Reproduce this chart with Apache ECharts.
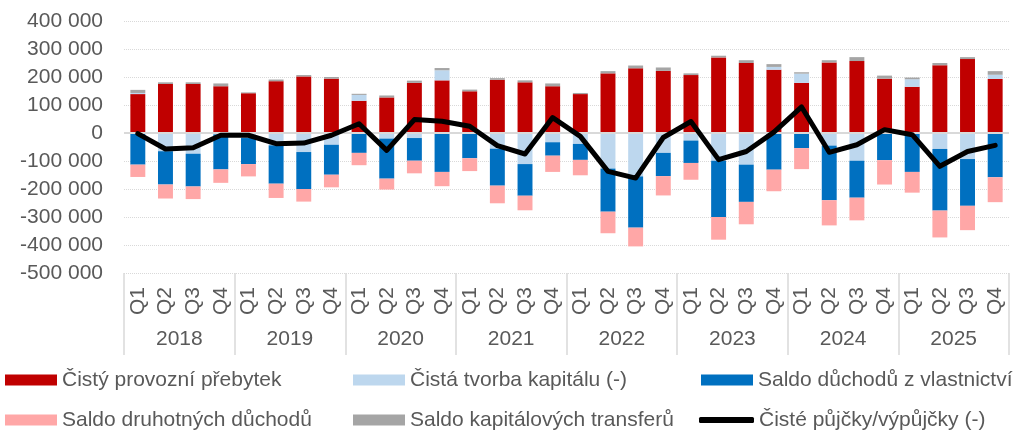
<!DOCTYPE html>
<html>
<head>
<meta charset="utf-8">
<script src="https://cdn.jsdelivr.net/npm/echarts@6/dist/echarts.min.js"></script>
<style>
html,body{margin:0;padding:0;background:#fff;}
#chart{width:1020px;height:432px;}
</style>
</head>
<body>
<div id="chart"></div>
<script>
var quarters = ['Q1','Q2','Q3','Q4','Q1','Q2','Q3','Q4','Q1','Q2','Q3','Q4','Q1','Q2','Q3','Q4',
                'Q1','Q2','Q3','Q4','Q1','Q2','Q3','Q4','Q1','Q2','Q3','Q4','Q1','Q2','Q3','Q4'];
var years = ['2018','2019','2020','2021','2022','2023','2024','2025'];

var surplus = [139000,175000,175000,167000, 142000,185000,202000,194000, 115000,127000,179000,188000, 149000,190000,181000,167000,
               139000,213000,231000,222000, 207000,270000,250000,226000, 179000,252000,257000,194000, 165000,242000,264000,193000];
var capitalFormation = [4000,-65000,-74000,-5000, -18000,-44000,-68000,-42000, 21000,-20000,-18000,36000, -3000,-56000,-111000,-33000,
               -39000,-127000,-155000,-71000, -27000,-99000,-113000,10000, 33000,-45000,-99000,-2000, 27000,-57000,-93000,15000];
var propertyIncome = [-113000,-119000,-117000,-125000, -93000,-137000,-132000,-107000, -71000,-143000,-81000,-139000, -87000,-132000,-113000,-48000,
               -57000,-154000,-183000,-83000, -80000,-201000,-133000,-131000, -54000,-195000,-132000,-95000, -139000,-220000,-167000,-158000];
var secondaryIncome = [-44000,-50000,-45000,-48000, -44000,-51000,-45000,-45000, -44000,-39000,-45000,-51000, -46000,-63000,-52000,-58000,
               -55000,-77000,-67000,-69000, -60000,-81000,-80000,-77000, -75000,-90000,-81000,-87000, -74000,-96000,-87000,-89000];
var capitalTransfers = [11000,6000,6000,10000, 3000,6000,5000,6000, 4000,7000,8000,8000, 6000,6000,7000,10000,
               4000,8000,10000,12000, 6000,6000,10000,10000, 5000,8000,14000,11000, 6000,8000,7000,13000];
var netLending = [-2000,-57000,-53000,-8000, -8000,-38000,-36000,-8000, 33000,-62000,48000,42000, 24000,-45000,-75000,55000,
               -12000,-137000,-161000,-16000, 41000,-95000,-66000,3000, 93000,-69000,-42000,12000, -6000,-119000,-66000,-44000];

var yTicks = [-500000,-400000,-300000,-200000,-100000,0,100000,200000,300000,400000];
var yTickLabels = ['-500 000','-400 000','-300 000','-200 000','-100 000','0','100 000','200 000','300 000','400 000'];

var names = ['Čistý provozní přebytek','Čistá tvorba kapitálu (-)','Saldo důchodů z vlastnictví',
             'Saldo druhotných důchodů','Saldo kapitálových transferů','Čisté půjčky/výpůjčky (-)'];
var colors = ['#C00000','#BDD7EE','#0070C0','#FFA7A7','#A5A5A5','#000000'];

var FONT = '"Liberation Sans", Arial, sans-serif';
var TXT = '#595959';
var FS = 21;

function legendAt(name, left, top, isLine) {
  var lg = {
    show: true, data: [name], left: left, top: top, padding: 0,
    itemWidth: isLine ? 55 : 52, itemHeight: isLine ? 6 : 11, itemGap: 6,
    selectedMode: false,
    icon: isLine ? 'roundRect' : 'rect',
    textStyle: {fontFamily: FONT, fontSize: FS, color: TXT, lineHeight: 24}
  };
  if (isLine) {
    lg.itemStyle = {color: '#000', borderWidth: 0};
  }
  return lg;
}

function barSeries(i, data) {
  return {
    name: names[i], type: 'bar', stack: 'total', data: data,
    xAxisIndex: 0, yAxisIndex: 0,
    barCategoryGap: '46%',
    itemStyle: {color: colors[i]},
    emphasis: {disabled: true}
  };
}

var series = [
  barSeries(0, surplus),
  barSeries(1, capitalFormation),
  barSeries(2, propertyIncome),
  barSeries(3, secondaryIncome),
  barSeries(4, capitalTransfers),
  {
    name: names[5], type: 'line', data: netLending, xAxisIndex: 0, yAxisIndex: 0,
    symbol: 'none', z: 10,
    lineStyle: {color: '#000', width: 5, cap: 'round', join: 'round'},
    itemStyle: {color: '#000'},
    emphasis: {disabled: true}
  }
];
series[0].markLine = {
  silent: true, symbol: 'none', label: {show: false},
  lineStyle: {color: '#D9D9D9', type: 'solid', width: 2},
  data: [{yAxis: 0}]
};

var chart = echarts.init(document.getElementById('chart'), null, {renderer: 'canvas'});
chart.setOption({
  animation: false,
  backgroundColor: '#fff',
  grid: {left: 124, right: 11, top: 21, height: 252, containLabel: false},
  legend: [
    legendAt(names[0], 5, 368, false),
    legendAt(names[1], 353, 368, false),
    legendAt(names[2], 701, 368, false),
    legendAt(names[3], 5, 408, false),
    legendAt(names[4], 353, 408, false),
    legendAt(names[5], 699, 408, true)
  ],
  xAxis: [
    {
      type: 'category', data: quarters, position: 'bottom',
      axisLine: {show: false}, axisTick: {show: false}, splitLine: {show: false},
      axisLabel: {interval: 0, rotate: 90, margin: 14, fontFamily: FONT, fontSize: FS, color: TXT}
    },
    {
      type: 'category', data: years, position: 'bottom',
      axisLine: {show: false}, splitLine: {show: false},
      axisTick: {show: true, interval: 0, length: 82, lineStyle: {color: '#D9D9D9', width: 1.5}},
      axisLabel: {interval: 0, margin: 56, fontFamily: FONT, fontSize: FS, color: TXT}
    }
  ],
  yAxis: {
    type: 'value', min: -500000, max: 400000, interval: 100000,
    axisLine: {show: false}, axisTick: {show: false},
    splitLine: {show: true, lineStyle: {color: '#D9D9D9', type: 'dotted', width: 1}},
    axisLabel: {
      margin: 21, fontFamily: FONT, fontSize: FS, color: TXT,
      formatter: function (v) {
        var idx = yTicks.indexOf(v);
        return idx >= 0 ? yTickLabels[idx] : '';
      }
    }
  },
  series: series
});
</script>
</body>
</html>
